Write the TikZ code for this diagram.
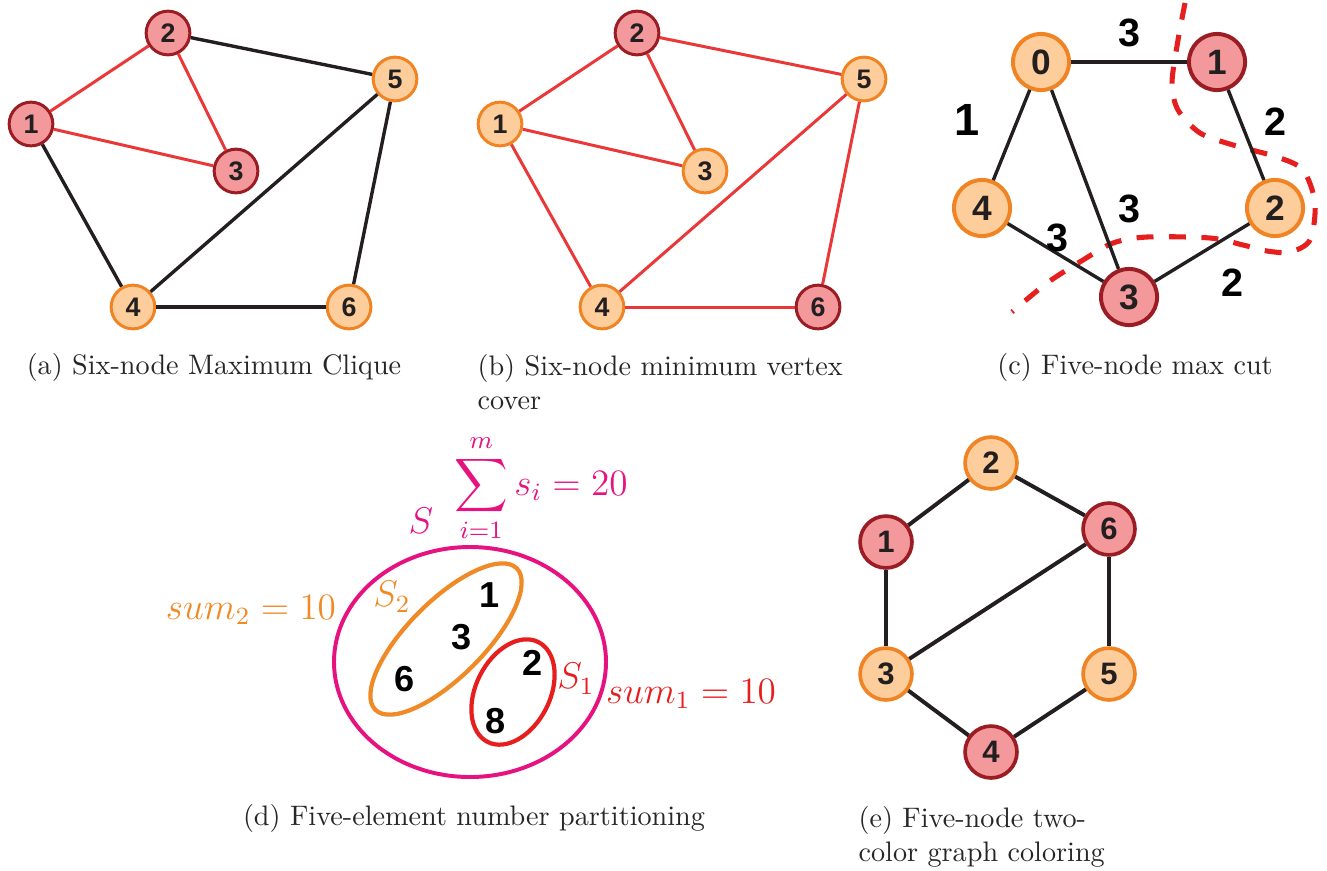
\documentclass[tikz,border=0pt]{standalone}
\usepackage{amsmath,amssymb}
\usepackage{fontspec}
\newfontfamily\graphfont{Liberation Sans}
\usetikzlibrary{positioning,calc}
\usepackage{xcolor}

\definecolor{vfillred}{RGB}{243,152,155}
\definecolor{vlinered}{RGB}{155,28,34}
\definecolor{vfillorg}{RGB}{253,206,155}
\definecolor{vlineorg}{RGB}{240,132,36}
\definecolor{edgered}{RGB}{234,56,56}
\definecolor{inkblack}{RGB}{35,31,32}
\definecolor{setpink}{RGB}{230,18,128}
\definecolor{setorg}{RGB}{240,138,38}
\definecolor{setred}{RGB}{230,30,30}

\begin{document}
\begin{tikzpicture}[x=0.3546pt, y=-0.3546pt,
    vertex/.style={circle, inner sep=0pt, text=inkblack, minimum size=15.5pt, line width=1.06pt,
        font=\graphfont\bfseries\fontsize{9.5}{11}\selectfont},
    redv/.style={vertex, draw=vlinered, fill=vfillred},
    orgv/.style={vertex, draw=vlineorg, fill=vfillorg},
    link/.style={line width=1.2pt, inkblack},
    redlink/.style={line width=1.06pt, edgered},
    weight/.style={inner sep=0pt, text=black, font=\graphfont\bfseries\fontsize{14}{16}\selectfont},
    elem/.style={inner sep=0pt, text=black, font=\graphfont\bfseries\fontsize{12.8}{15}\selectfont},
    setlabel/.style={inner sep=0pt, font=\large, scale=1.1},
    caption/.style={inner sep=0pt, text=black!85, font=\normalsize}]
    \useasboundingbox (0,0) rectangle (1327,870);

    % (a) maximum clique
    \node[redv] (a1) at (31,124) {1};
    \node[redv] (a2) at (168,33) {2};
    \node[redv] (a3) at (236,171) {3};
    \node[orgv] (a4) at (133,307) {4};
    \node[orgv] (a5) at (395,79) {5};
    \node[orgv] (a6) at (349,307) {6};
    \draw[redlink] (a1) -- (a2);
    \draw[redlink] (a2) -- (a3);
    \draw[redlink] (a1) -- (a3);
    \draw[link] (a2) -- (a5);
    \draw[link] (a1) -- (a4);
    \draw[link] (a4) -- (a5);
    \draw[link] (a5) -- (a6);
    \draw[link] (a4) -- (a6);
    \node[caption] (capa) at (214,367) {(a) Six-node Maximum Clique};

    % (b) minimum vertex cover
    \node[orgv] (b1) at (500,124) {1};
    \node[redv] (b2) at (637,33) {2};
    \node[orgv] (b3) at (705,171) {3};
    \node[orgv] (b4) at (602,307) {4};
    \node[orgv] (b5) at (864,79) {5};
    \node[redv] (b6) at (818,307) {6};
    \draw[redlink] (b1) -- (b2);
    \draw[redlink] (b2) -- (b3);
    \draw[redlink] (b1) -- (b3);
    \draw[redlink] (b2) -- (b5);
    \draw[redlink] (b1) -- (b4);
    \draw[redlink] (b4) -- (b5);
    \draw[redlink] (b5) -- (b6);
    \draw[redlink] (b4) -- (b6);
    \node[caption, anchor=north west, align=left] (capb) at (477,354) {(b) Six-node minimum vertex\\cover};

    % (c) max cut
    \draw[setred, line width=1.8pt, dash pattern=on 6pt off 5.5pt]
        plot[smooth] coordinates {(1185,3) (1178,40) (1172,83) (1178,110) (1200,133) (1233,145)
            (1277,157) (1303,170) (1315,203) (1310,240) (1290,252) (1267,251) (1243,245)
            (1210,238) (1147,237) (1113,243) (1083,260) (1047,283) (1012,312)};
    \begin{scope}[vertex/.append style={minimum size=19.9pt, line width=1.4pt,
            font=\graphfont\bfseries\fontsize{12.5}{14}\selectfont}]
        \node[orgv] (c0) at (1041,62) {0};
        \node[redv] (c1) at (1217,62) {1};
        \node[orgv] (c2) at (1275,208) {2};
        \node[redv] (c3) at (1129,297) {3};
        \node[orgv] (c4) at (982,208) {4};
    \end{scope}
    \draw[link] (c0) -- (c1);
    \draw[link] (c1) -- (c2);
    \draw[link] (c0) -- (c4);
    \draw[link] (c0) -- (c3);
    \draw[link] (c4) -- (c3);
    \draw[link] (c3) -- (c2);
    % weights
    \node[weight] (w01) at (1129,33) {3};
    \node[weight, font=\graphfont\bfseries\fontsize{16}{18}\selectfont] (w04) at (967,120) {1};
    \node[weight] (w12) at (1275,122) {2};
    \node[weight] (w03) at (1129,209) {3};
    \node[weight] (w34) at (1057,238) {3};
    \node[weight] (w23) at (1232,283) {2};
    \node[caption] (capc) at (1135,367) {(c) Five-node max cut};

    % (d) number partitioning
    \draw[setpink, line width=1.4pt] (470,662) ellipse [x radius=136, y radius=115];
    \draw[setorg, line width=1.5pt, rotate around={45:(446,639)}] (446,639) ellipse [x radius=100, y radius=38];
    \draw[setred, line width=1.5pt, rotate around={63:(513,692)}] (513,692) ellipse [x radius=56, y radius=37];
    \node[elem] (d1) at (490,595) {1};
    \node[elem] (d3) at (462,637) {3};
    \node[elem] (d6) at (405,679) {6};
    \node[elem] (d2) at (533,663) {2};
    \node[elem] (d8) at (496,721) {8};
    \node[setlabel, setpink] (setS) at (421,521) {$S$};
    \node[setlabel, setpink] (setsum) at (541,488) {$\displaystyle\sum_{i=1}^{m} s_i = 20$};
    \node[setlabel, setorg] (labS2) at (392,597) {$S_2$};
    \node[setlabel, setorg] (sumtwo) at (251,610) {$sum_2 = 10$};
    \node[setlabel, setred] (labS1) at (576,679) {$S_1$};
    \node[setlabel, setred] (sumone) at (691,694) {$sum_1 = 10$};
    \node[caption] (capd) at (474,818) {(d) Five-element number partitioning};

    % (e) graph coloring
    \begin{scope}[vertex/.append style={minimum size=18.4pt, line width=1.3pt,
            font=\graphfont\bfseries\fontsize{11}{13}\selectfont}]
        \node[redv] (e1) at (886,542) {1};
        \node[orgv] (e2) at (991,463) {2};
        \node[orgv] (e3) at (886,674) {3};
        \node[redv] (e4) at (991,752) {4};
        \node[orgv] (e5) at (1109,674) {5};
        \node[redv] (e6) at (1109,529) {6};
    \end{scope}
    \draw[link, line width=1.4pt] (e2) -- (e1);
    \draw[link, line width=1.4pt] (e2) -- (e6);
    \draw[link, line width=1.4pt] (e1) -- (e3);
    \draw[link, line width=1.4pt] (e6) -- (e3);
    \draw[link, line width=1.4pt] (e6) -- (e5);
    \draw[link, line width=1.4pt] (e3) -- (e4);
    \draw[link, line width=1.4pt] (e5) -- (e4);
    \node[caption, anchor=north west, align=left] (cape) at (858,806) {(e) Five-node two-\\color graph coloring};
\end{tikzpicture}
\end{document}
